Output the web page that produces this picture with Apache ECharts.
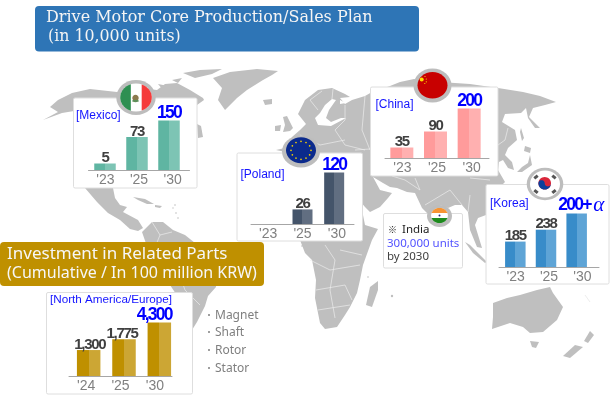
<!DOCTYPE html>
<html><head><meta charset="utf-8">
<style>html,body{margin:0;padding:0;background:#fff}#c{width:615px;height:405px}canvas{filter:blur(.35px)}</style>
<script src="https://cdn.jsdelivr.net/npm/echarts@6/dist/echarts.min.js"></script>
</head><body><div id="c"></div>
<script>
// The source is a schematic infographic: bar heights are not proportional to their printed
// figures (e.g. 238 is drawn lower than 200+a). So the *Bars arrays hold each bar's height as
// read from the picture, in percent of the panel's tallest bar; *Labels hold the printed figures.
const mexicoYears = ["'23","'25","'30"];
const mexicoBars = [14,67,100];
const mexicoLabels = ['5','73','150'];
const polandYears = ["'23","'25","'30"];
const polandBars = [null,29,100];
const polandLabels = ['','26','120'];
const chinaYears = ["'23","'25","'30"];
const chinaBars = [22,54,100];
const chinaLabels = ['35','90','200'];
const koreaYears = ["'23","'25","'30"];
const koreaBars = [48,70,100];
const koreaLabels = ['185','238','200+α'];
const investYears = ["'24","'25","'30"];
const investBars = [49,69,100];
const investLabels = ['1,300','1,775','4,300'];
const partsList = ['Magnet','Shaft','Rotor','Stator'];

const SANS='"Liberation Sans",Arial,sans-serif';
const MAP='#BFBFBF', RING='#BDBDBD';
const g=[];
function poly(pts,fill,z){g.push({type:'polygon',z:z||0,silent:true,shape:{points:pts},style:{fill:fill||MAP}});}
function line(pts,w){g.push({type:'polyline',z:0,silent:true,shape:{points:pts},style:{stroke:'#EDEDED',lineWidth:w||0.7,fill:null}});}
function dot(x,y,r,fill,z){g.push({type:'circle',z:z||0,silent:true,shape:{cx:x,cy:y,r:r},style:{fill:fill||MAP}});}
function ell(cx,cy,a,b,fill,z){g.push({type:'ellipse',z:z,silent:true,shape:{cx,cy,rx:a,ry:b},style:{fill}});}
function box(x,y,w,h,z){g.push({type:'rect',z:z||1,silent:true,shape:{x,y,width:w,height:h,r:1.5},style:{fill:'#fff',stroke:'#DEDEDE',lineWidth:1}});}
function txt(t,x,y,font,fill,z){g.push({type:'text',z:z||6,silent:true,x,y,style:{text:t,font,fill,textVerticalAlign:'middle',textBaseline:'middle'}});}

// ---- background world map (decoration) ----
poly([[43,120],[58,112],[50,107],[58,100],[72,93],[90,89],[117,92],[140,88],[157,90],[165,84],[177,83],[190,90],[203,98],[204,100],[190,110],[190,188],[85,188],[80,110],[62,113]]);
poly([[85,188],[97,202],[108,213],[120,220],[130,229],[138,231],[143,228],[138,220],[123,212],[127,207],[120,205],[115,198],[113,188]]);
poly([[183,73],[200,70],[222,69],[212,74],[195,78]]);
poly([[158,84],[168,86],[163,90]]);poly([[172,80],[182,78],[178,83]]);
poly([[213,78],[230,72],[257,69],[278,71],[272,75],[263,80],[247,90],[237,98],[225,110],[218,100],[222,88]]);
poly([[263,100],[272,99],[272,104],[265,105]]);
poly([[283,117],[287,116],[293,128],[290,131],[283,132],[285,125]]);
poly([[275,126],[281,125],[280,131],[275,131]]);
poly([[197,124],[201,126],[203,137],[198,138]]);
poly([[133,197],[145,199],[154,204],[147,204],[138,200]]);poly([[155,205],[162,206],[160,208],[155,207]]);
dot(175,205,.8);dot(176,213,.8);dot(178,218,.8);dot(173,208,.7);dot(392,296,1.2);dot(302,246,.8);dot(368,277,.8);
// South America
poly([[142,232],[152,222],[163,222],[173,230],[185,235],[195,243],[210,250],[218,262],[216,287],[208,296],[205,306],[197,322],[192,330],[180,300],[150,255]]);
// Eurasia
poly([[276,150],[285,148],[292,137],[300,130],[306,124],[298,114],[305,100],[318,90],[332,88],[345,94],[350,97],[340,98],[345,104],[352,100],[365,96],[372,92],[390,86],[400,82],[414,79],[440,82],[470,84],[498,88],[523,92],[540,96],[556,102],[545,105],[533,108],[529,117],[540,128],[535,128],[528,118],[526,108],[521,113],[505,114],[502,122],[515,130],[517,140],[508,148],[505,155],[512,162],[514,170],[508,168],[503,160],[499,162],[498,170],[505,182],[497,190],[486,200],[486,215],[478,218],[475,225],[482,248],[477,247],[470,230],[468,212],[462,205],[455,205],[448,208],[440,205],[432,214],[427,213],[422,208],[415,193],[407,192],[397,188],[390,187],[383,183],[373,177],[380,190],[392,193],[388,198],[380,207],[370,212],[365,207],[355,195],[340,180],[300,155]]);
poly([[320,113],[325,105],[332,99],[336,100],[329,110],[326,118],[331,122],[341,118],[346,118],[331,126],[318,125],[315,118]],'#fff');
poly([[340,100],[346,103],[340,104]],'#fff');
// Japan, Sakhalin
poly([[525,146],[531,148],[530,153],[524,151]]);poly([[530,155],[532,165],[522,172],[517,172],[522,167],[528,163]]);poly([[521,128],[524,138],[522,141],[520,132]]);
// Africa
poly([[300,240],[305,253],[312,260],[316,280],[315,298],[320,323],[325,329],[337,327],[345,315],[350,307],[357,293],[360,280],[363,265],[372,240],[378,229],[365,225],[363,215],[355,200],[300,200]]);
poly([[370,287],[378,281],[378,290],[372,307],[366,305]]);
// Sumatra, Australia, NZ, etc
poly([[465,242],[470,245],[487,262],[485,263],[473,253]]);
poly([[493,303],[507,298],[520,295],[537,290],[550,287],[553,293],[563,307],[557,320],[543,332],[530,333],[523,327],[510,323],[492,329],[493,317]]);
poly([[530,341],[539,342],[536,348],[532,347]]);
poly([[590,331],[594,335],[588,343],[584,341]]);poly([[575,345],[583,347],[570,358],[563,356]]);
line([[585,295],[590,302]],1);
// country borders
[[[318,110],[310,100],[322,91]],[[333,89],[332,99]],[[345,105],[345,120],[335,130],[345,145],[365,150]],[[300,135],[320,145],[345,140]],[[365,96],[362,130],[370,150]],[[355,150],[385,148],[370,165]],[[392,176],[405,180],[420,190],[415,178]],[[425,205],[450,190],[462,205]],[[470,178],[490,180]],[[498,145],[505,140],[508,128]],[[152,222],[160,235],[172,232]],[[160,235],[152,255],[175,262]],[[175,262],[185,290],[200,305]],[[310,260],[330,270],[360,265]],[[325,245],[335,260],[330,290]],[[316,290],[345,285],[352,300]],[[330,290],[335,318]],[[318,310],[350,305]],[[340,250],[362,255]],[[470,195],[468,212]]].forEach(p=>line(p));

// ---- panels' white cards ----
box(73.5,98,123.5,90);
box(237,153,125.5,88);
box(370.5,87,127.5,89);
box(486,184.5,123,99.5);
box(46.5,292.5,146,101.5);
box(383.5,213.5,79,54.5);

// ---- headline boxes ----
g.push({type:'rect',z:3,silent:true,shape:{x:35,y:6,width:384,height:45.5,r:4},style:{fill:'#2E75B6'}});
txt('Drive Motor Core Production/Sales Plan',46,18,'16px "DejaVu Serif",serif','#F4F4F4',6);
txt('(in 10,000 units)',48,37,'15.8px "DejaVu Serif",serif','#F4F4F4',6);
g.push({type:'rect',z:3,silent:true,shape:{x:0,y:242,width:264,height:44,r:4},style:{fill:'#BF9000'}});
txt('Investment in Related Parts',7,254,'17px "Noto Sans",sans-serif','#F7F7F7',6);
txt('(Cumulative / In 100 million KRW)',7,273.5,'16px "Noto Sans",sans-serif','#F7F7F7',6);

// ---- panel titles ----
const BL='#1414FF';
txt('[Mexico]',76,115.5,'12px '+SANS,BL);
txt('[Poland]',240.5,174.5,'12px '+SANS,BL);
txt('[China]',375.5,105,'12px '+SANS,BL);
txt('[Korea]',490,203.5,'12px '+SANS,BL);
txt('[North America/Europe]',50,300,'11.7px '+SANS,BL);
// India note
txt('※',388,230,'9px "Noto Sans CJK KR",sans-serif','#222');
txt('India',402,230,'11.5px "Noto Sans",sans-serif','#222');
txt('300,000 units',387,243.5,'11.5px "Noto Sans",sans-serif','#5353FF');
txt('by 2030',387,256.5,'11.5px "Noto Sans",sans-serif','#404040');
// parts list
partsList.forEach((s,i)=>{const y=[316,333,351,369][i];dot(209,y-1,1,'#7F7F7F',6);txt(s,215,y,'12px "Noto Sans",sans-serif','#7F7F7F');});

// ---- flags ----
function vChord(cx,cy,a,b,k,side,fill){ // ellipse segment beyond x=cx+k*a; side -1 left, +1 right
  const t0=Math.acos(k),pts=[];
  for(let i=0;i<=24;i++){const t=side>0?(-t0+2*t0*i/24):(t0+(2*Math.PI-2*t0)*i/24);pts.push([cx+a*Math.cos(t),cy+b*Math.sin(t)]);}
  poly(pts,fill,7);}
function hChord(cx,cy,a,b,k,side,fill){ // segment beyond y=cy+k*b; side -1 top, +1 bottom
  const t0=Math.acos(k),pts=[];
  for(let i=0;i<=24;i++){const t=side>0?(-t0+2*t0*i/24):(t0+(2*Math.PI-2*t0)*i/24);pts.push([cx+a*Math.sin(t),cy+b*Math.cos(t)]);}
  poly(pts,fill,7);}
// Mexico
ell(136,97.5,19.7,17.5,RING,7);ell(136,97.5,15.8,14,'#fff',7);
vChord(136,97.5,15.8,14,-0.33,-1,'#2E8F52');vChord(136,97.5,15.8,14,0.36,1,'#F53B3B');
ell(135.5,98,3.2,3.2,'#8C7A4E',7);ell(135.5,101,3.4,1.2,'#5F8F5A',7);
// EU
ell(301,151.5,19,16,RING,7);ell(301,150.3,15,13,'#0B2A8C',7);
for(let i=0;i<12;i++){const t=i*Math.PI/6;dot(301+10*Math.cos(t),150.3+9*Math.sin(t),.85,'#F5D000',7);}
// China
ell(432.5,85.5,19,17,RING,7);ell(432.5,85.3,15,13.3,'#C80000',7);
dot(421.7,79.5,2,'#FFDE00',7);dot(425,76.5,.6,'#FFDE00',7);dot(426.3,79,.6,'#FFDE00',7);dot(426.3,81.8,.6,'#FFDE00',7);dot(424.8,83.5,.6,'#FFDE00',7);
// Korea
ell(545,184,18.3,16.2,RING,7);ell(545,184,15,13.5,'#fff',7);
ell(544.7,183.3,6.3,6.3,'#D9263A',7);
(function(){const cx=544.7,cy=183.3,r=6.3,pts=[];
  for(let i=0;i<=24;i++){const t=Math.PI*i/24;pts.push([cx+r*Math.cos(t),cy+r*Math.sin(t)]);}
  for(let i=0;i<=12;i++){const t=Math.PI*i/12;pts.push([cx-r/2-r/2*Math.cos(t),cy+r/2*Math.sin(t)*-1]);}
  for(let i=0;i<=12;i++){const t=Math.PI*i/12;pts.push([cx+r/2-r/2*Math.cos(t),cy+r/2*Math.sin(t)]);}
  poly(pts,'#0D3F9C',7);})();
[[-9,-7,1],[9,-7,-1],[-9,7.5,-1],[9,7.5,1]].forEach(t=>{g.push({type:'rect',z:7,silent:true,x:545+t[0],y:184+t[1],rotation:t[2]*0.7,shape:{x:-2.2,y:-1.5,width:4.4,height:3},style:{fill:'#555'}});});
// India
ell(439.5,216,12.5,11,RING,7);ell(439.5,215.5,8.4,7.6,'#fff',7);
hChord(439.5,215.5,8.4,7.6,-0.33,-1,'#F79433');hChord(439.5,215.5,8.4,7.6,0.33,1,'#1D8A1D');
dot(439.5,215.5,1,'#2A2A80',7);

// ---- bar panels ----
// Printed figures are set very tight in the source, so each character is a fixed-width rich token.
function tight(s,cls){return s.split('').map(c=>c===','?`{${cls}c|,}`:c==='+'?`{${cls}p|+}`:c==='α'?`{al|α}`:`{${cls}|${c}}`).join('');}
const BIG={color:'#0000FF',fontFamily:SANS,fontWeight:'bold',fontSize:17.5,align:'left'};
const SMALL={color:'#404040',fontFamily:SANS,fontWeight:'bold',fontSize:15,align:'left'};
const RICH={
  T:{...BIG,width:8},Tc:{...BIG,width:3},Tp:{...BIG,width:11},
  S:{...SMALL,width:7},Sc:{...SMALL,width:3},
  al:{color:'#0000FF',fontFamily:'"Liberation Serif",serif',fontStyle:'italic',fontSize:21,width:10,align:'left'}
};
const grids=[],xAxes=[],yAxes=[],series=[];
function panel(o){
  const base=o.base, i=grids.length;
  // axis strip: carries the baseline and year labels
  grids.push({left:o.axL,width:o.axW,top:base-10,height:10});
  xAxes.push({gridIndex:i,type:'category',z:4,data:o.years,axisTick:{show:false},axisLine:{show:true,onZero:false,lineStyle:{color:'#A6A6A6',width:1}},
    axisLabel:{show:true,color:'#808080',fontFamily:SANS,fontSize:14,margin:3,interval:0}});
  yAxes.push({gridIndex:i,type:'value',show:false,min:0,max:100});
  // bars
  grids.push({left:o.barL,width:o.barW,top:base-o.h,height:o.h});
  xAxes.push({gridIndex:i+1,type:'category',data:o.years,show:false});
  yAxes.push({gridIndex:i+1,type:'value',show:false,min:0,max:100});
  const fill={type:'linear',x:0,y:0,x2:1,y2:0,colorStops:[{offset:0,color:o.dark},{offset:.5,color:o.dark},{offset:.5,color:o.light},{offset:1,color:o.light}]};
  series.push({type:'bar',name:o.name,xAxisIndex:i+1,yAxisIndex:i+1,barWidth:o.bw,z:3,silent:true,animation:false,itemStyle:{color:fill},
    data:o.bars.map((v,k)=>{const top=k===o.bars.length-1;const t=top?(o.topOff||[0,0]):[o.off?o.off[k]:0,0];return {value:v,label:{show:v!=null,position:'top',distance:0,
      formatter:tight(o.labels[k],top?'T':'S'),offset:[t[0],t[1]+2],rich:RICH}};})});
}
panel({name:'Mexico',years:mexicoYears,bars:mexicoBars,labels:mexicoLabels,base:170.5,h:50,axL:88.5,axW:101,barL:89,barW:96,bw:21.5,dark:'#5FB5A2',light:'#7DC4B4'});
panel({name:'Poland',years:polandYears,bars:polandBars,labels:polandLabels,base:224.5,h:52,axL:251,axW:103,barL:255,barW:95,bw:20,dark:'#44546A',light:'#616E81'});
panel({name:'China',years:chinaYears,bars:chinaBars,labels:chinaLabels,base:158.5,h:50,axL:385,axW:104,barL:385,barW:101,bw:23,dark:'#FF9B9B',light:'#FFB0B0'});
panel({name:'Korea',years:koreaYears,bars:koreaBars,labels:koreaLabels,base:267.5,h:54,axL:499,axW:100,barL:500,barW:92,bw:20.5,dark:'#388CC9',light:'#5EA4D6',topOff:[4,0]});
panel({name:'North America/Europe',years:investYears,bars:investBars,labels:investLabels,base:376.5,h:54,axL:69,axW:103,barL:71,barW:106,bw:23.5,dark:'#BF9000',light:'#CCA634',topOff:[-5,0],off:[1,-2]});

const chart=echarts.init(document.getElementById('c'),null,{renderer:'canvas',width:615,height:405});
chart.setOption({animation:false,backgroundColor:'#fff',grid:grids,xAxis:xAxes,yAxis:yAxes,series,graphic:{elements:g},tooltip:{show:false}});
</script></body></html>
